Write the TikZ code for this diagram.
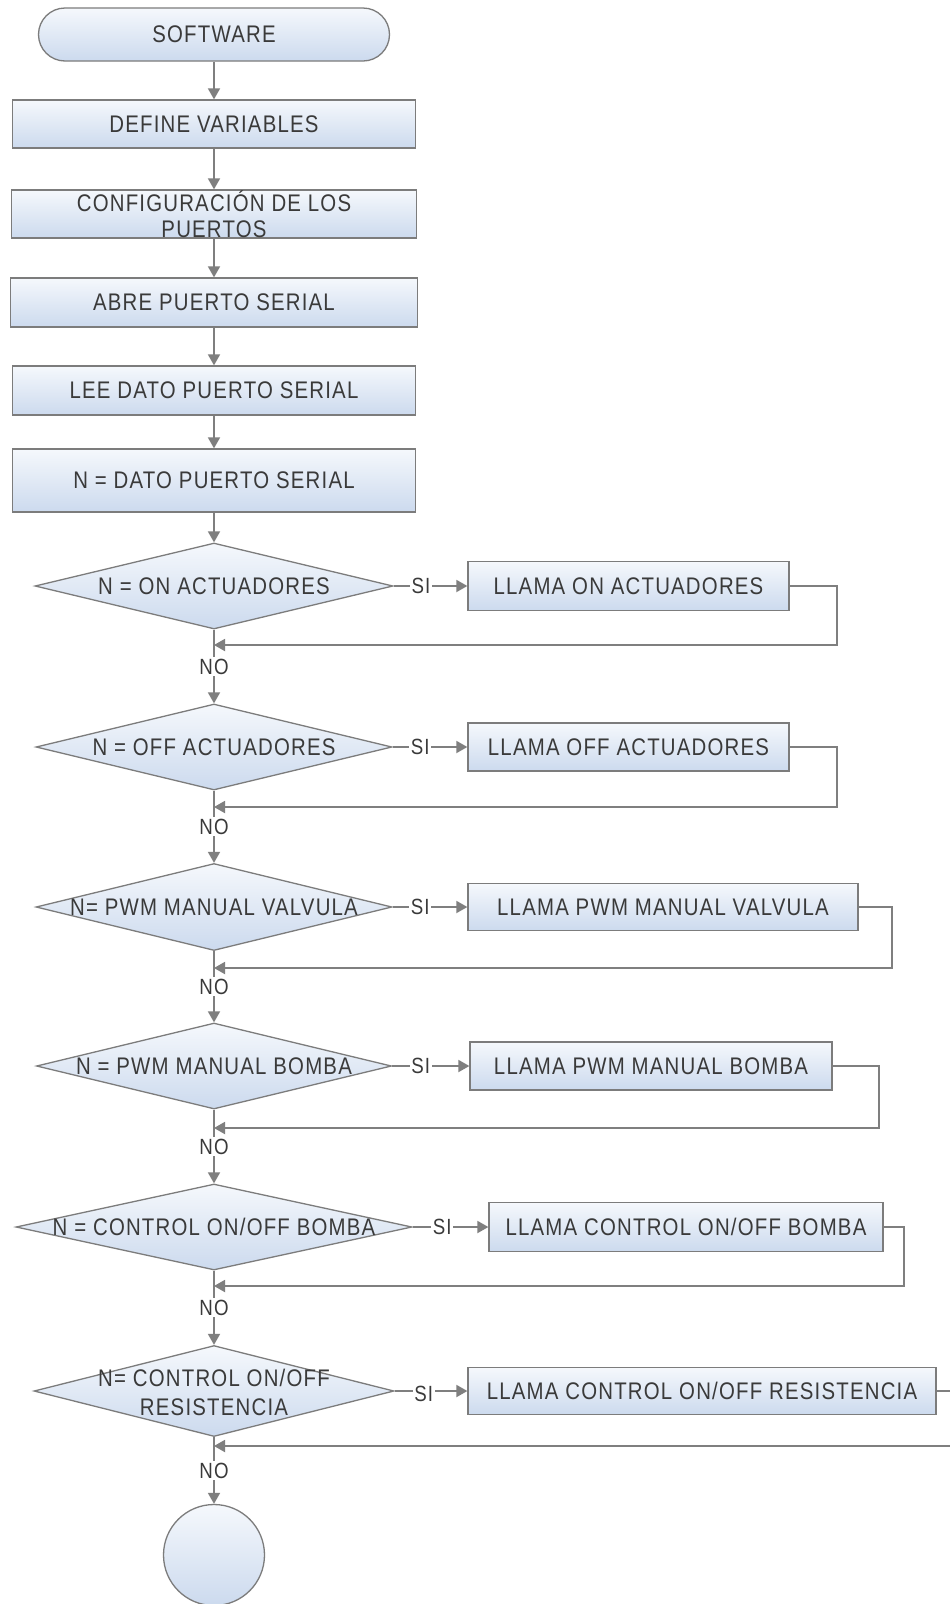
\documentclass[tikz,border=0pt]{standalone}
\usepackage{fontspec}
\setmainfont{Liberation Sans}[FakeStretch=0.85, LetterSpace=5]
\usetikzlibrary{shapes.geometric,shapes.misc,arrows.meta,calc}

\definecolor{linegray}{HTML}{7F7F7F}
\definecolor{edgegray}{HTML}{7C7C7C}
\definecolor{filltop}{HTML}{F5F8FC}
\definecolor{fillbot}{HTML}{CCDAEE}
\definecolor{ink}{HTML}{3A3A3A}

\tikzset{
  shapebase/.style={draw=edgegray, line width=1.3pt, top color=filltop, bottom color=fillbot,
    text=ink, font=\fontsize{24}{28}\selectfont, inner sep=0pt, align=center},
  procbox/.style={shapebase, rectangle},
  termbox/.style={shapebase, rounded rectangle},
  decbox/.style={shapebase, diamond},
  endbox/.style={shapebase, circle},
  dectext/.style={text=ink, font=\fontsize{24}{29}\selectfont, inner sep=0pt, align=center},
  flow/.style={draw=linegray, line width=1.8pt, -{Triangle[length=11pt,width=12pt]}},
  link/.style={draw=linegray, line width=1.8pt},
  tag/.style={fill=white, text=ink, font=\fontsize{22}{24}\selectfont, inner sep=1.5pt},
}

\begin{document}
\begin{tikzpicture}[x=1pt, y=-1pt]
  \useasboundingbox (0,0) rectangle (950,1604);
  \clip (0,0) rectangle (950,1604);
  \fill[white] (0,0) rectangle (950,1604);

  % main column
  \node[termbox, minimum width=351pt, minimum height=53pt] (soft) at (214,34.5) {SOFTWARE};
  \node[procbox, minimum width=403pt, minimum height=48pt] (def) at (214,124) {DEFINE VARIABLES};
  \node[procbox, minimum width=405pt, minimum height=48pt] (conf) at (214,214) {CONFIGURACIÓN DE LOS\\[-2pt]PUERTOS};
  \node[procbox, minimum width=407pt, minimum height=49pt] (abre) at (214,302.5) {ABRE PUERTO SERIAL};
  \node[procbox, minimum width=403pt, minimum height=49pt] (lee) at (214,390.5) {LEE DATO PUERTO SERIAL};
  \node[procbox, minimum width=403pt, minimum height=63pt] (ndat) at (214,480.5) {N = DATO PUERTO SERIAL};

  % decisions
  \node[decbox, minimum width=358pt, minimum height=86pt] (d1) at (214,586) {};
  \node[dectext] (d1t) at (d1) {N = ON ACTUADORES};
  \node[decbox, minimum width=356pt, minimum height=86pt] (d2) at (214,747) {};
  \node[dectext] (d2t) at (d2) {N = OFF ACTUADORES};
  \node[decbox, minimum width=356pt, minimum height=87pt] (d3) at (214,907) {};
  \node[dectext] (d3t) at (d3) {N= PWM MANUAL VALVULA};
  \node[decbox, minimum width=355pt, minimum height=86pt] (d4) at (214,1066) {};
  \node[dectext] (d4t) at (d4) {N = PWM MANUAL BOMBA};
  \node[decbox, minimum width=396pt, minimum height=86pt] (d5) at (214,1227) {};
  \node[dectext] (d5t) at (d5) {N = CONTROL ON/OFF BOMBA};
  \node[decbox, minimum width=360pt, minimum height=91pt] (d6) at (214,1391) {};
  \node[dectext] (d6t) at (214,1392) {N= CONTROL ON/OFF\\RESISTENCIA};

  % called routines
  \node[procbox, minimum width=321pt, minimum height=49pt] (b1) at (628.5,586) {LLAMA ON ACTUADORES};
  \node[procbox, minimum width=321pt, minimum height=48pt] (b2) at (628.5,747) {LLAMA OFF ACTUADORES};
  \node[procbox, minimum width=390pt, minimum height=47pt] (b3) at (663,907) {LLAMA PWM MANUAL VALVULA};
  \node[procbox, minimum width=362pt, minimum height=48pt] (b4) at (651,1066) {LLAMA PWM MANUAL BOMBA};
  \node[procbox, minimum width=394pt, minimum height=49pt] (b5) at (686,1227) {LLAMA CONTROL ON/OFF BOMBA};
  \node[procbox, minimum width=468pt, minimum height=47pt] (b6) at (702,1391) {LLAMA CONTROL ON/OFF RESISTENCIA};

  % end
  \node[endbox, minimum size=101pt] (fin) at (214,1555) {};

  % return points of the loops
  \coordinate (m1) at (214,645);  \coordinate (r1) at (837,645);
  \coordinate (m2) at (214,807);  \coordinate (r2) at (837,807);
  \coordinate (m3) at (214,968);  \coordinate (r3) at (892,968);
  \coordinate (m4) at (214,1128); \coordinate (r4) at (879,1128);
  \coordinate (m5) at (214,1286); \coordinate (r5) at (904,1286);
  \coordinate (m6) at (214,1446); \coordinate (r6) at (965,1446);

  % column flow
  \draw[flow] (soft.south) -- (def.north);
  \draw[flow] (def.south) -- (conf.north);
  \draw[flow] (conf.south) -- (abre.north);
  \draw[flow] (abre.south) -- (lee.north);
  \draw[flow] (lee.south) -- (ndat.north);
  \draw[flow] (ndat.south) -- (d1.north);

  % NO branches
  \draw[flow] (d1.south) -- node[tag] {NO} (d2.north);
  \draw[flow] (d2.south) -- node[tag] {NO} (d3.north);
  \draw[flow] (d3.south) -- node[tag] {NO} (d4.north);
  \draw[flow] (d4.south) -- node[tag] {NO} (d5.north);
  \draw[flow] (d5.south) -- node[tag] {NO} (d6.north);
  \draw[flow] (d6.south) -- node[tag] {NO} (fin.north);

  % SI branches
  \draw[flow] (d1.east) -- node[tag, pos=0.37] {SI} (b1.west);
  \draw[flow] (d2.east) -- node[tag, pos=0.37] {SI} (b2.west);
  \draw[flow] (d3.east) -- node[tag, pos=0.37] {SI} (b3.west);
  \draw[flow] (d4.east) -- node[tag, pos=0.37] {SI} (b4.west);
  \draw[flow] (d5.east) -- node[tag, pos=0.39] {SI} (b5.west);
  \draw[flow] (d6.east) -- node[tag, pos=0.4, yshift=-3pt] {SI} (b6.west);

  % returns to the main column
  \draw[flow] (b1.east) -| (r1) -- (m1);
  \draw[flow] (b2.east) -| (r2) -- (m2);
  \draw[flow] (b3.east) -| (r3) -- (m3);
  \draw[flow] (b4.east) -| (r4) -- (m4);
  \draw[flow] (b5.east) -| (r5) -- (m5);
  \draw[flow] (b6.east) -| (r6) -- (m6);
\end{tikzpicture}
\end{document}
